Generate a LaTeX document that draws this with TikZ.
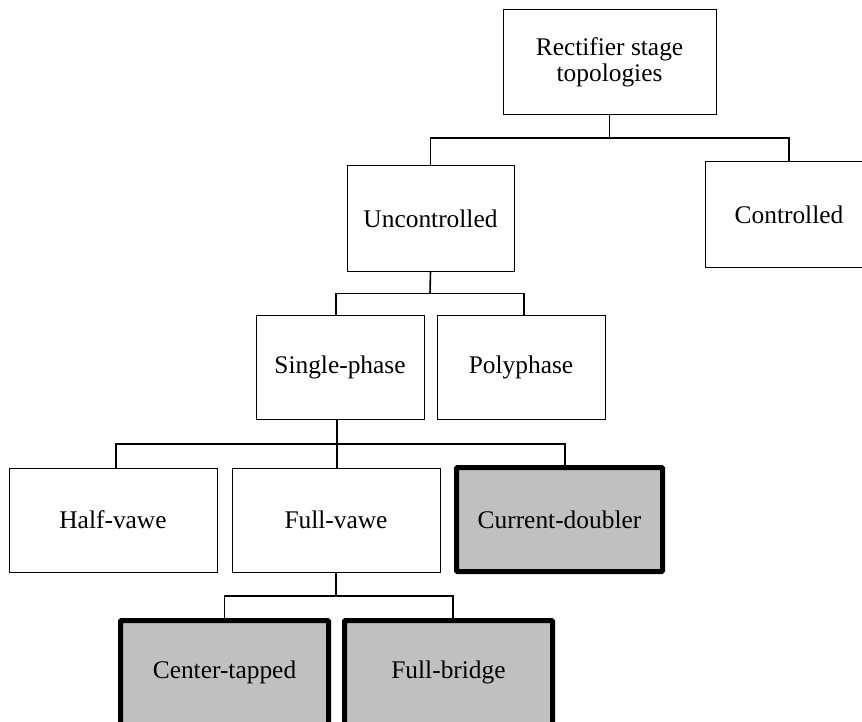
\documentclass[tikz,border=0pt]{standalone}
\usepackage{fontspec}
\setmainfont{Liberation Serif}
\definecolor{boxgray}{RGB}{192,192,192}
\tikzset{
  box/.style={draw=black, line width=1pt, fill=white, inner sep=0pt,
    minimum width=168pt, minimum height=104pt, align=center,
    font=\fontsize{25.4}{26.5}\selectfont},
  keybox/.style={box, fill=boxgray, line width=5pt, rounded corners=1pt},
  conn/.style={draw=black, line width=1.6pt}
}
\begin{document}
\begin{tikzpicture}[x=1pt, y=-1pt]
  \useasboundingbox (0,0) rectangle (862,722);
  \fill[white] (0,0) rectangle (862,722);
  \clip (0,0) rectangle (862,722);

  % tree nodes
  \node[box, minimum width=213pt, minimum height=105pt] (rect) at (609.5,62.5) {Rectifier stage\\topologies};
  \node[box, minimum width=167pt, minimum height=105pt] (unc) at (430.5,218.5) {Uncontrolled};
  \node[box, minimum height=105pt] (ctrl) at (789,214.5) {Controlled};
  \node[box] (single) at (340,367) {Single-phase};
  \node[box] (poly) at (521,367) {Polyphase};
  \node[box, minimum width=208pt] (half) at (113,520) {Half-vawe};
  \node[box, minimum width=208pt] (full) at (336,520) {Full-vawe};
  \node[keybox, minimum width=206pt] (curr) at (559.5,519.5) {Current-doubler};
  \node[keybox, minimum width=208pt] (ctap) at (224.5,672.5) {Center-tapped};
  \node[keybox, minimum width=208pt] (fbr) at (448.5,672.5) {Full-bridge};

  % junction points of the branches
  \coordinate (j1) at (609.5,138);
  \coordinate (j2) at (430,293.5);
  \coordinate (j3) at (337,444);
  \coordinate (j4) at (336,596);

  % connectors
  \draw[conn] (rect.south) -- (j1);
  \draw[conn] (j1) -| (unc.north);
  \draw[conn] (j1) -| (ctrl.north);

  \draw[conn] (unc.south) -- (j2);
  \draw[conn] (j2) -| ([xshift=-4pt]single.north);
  \draw[conn] (j2) -| ([xshift=3pt]poly.north);

  \draw[conn] ([xshift=-3pt]single.south) -- (j3);
  \draw[conn] (j3) -| ([xshift=3pt]half.north);
  \draw[conn] (j3) -| ([xshift=1pt]full.north);
  \draw[conn] (j3) -| ([xshift=5.5pt]curr.north);

  \draw[conn] (full.south) -- (j4);
  \draw[conn] (j4) -| (ctap.north);
  \draw[conn] (j4) -| ([xshift=4.5pt]fbr.north);
\end{tikzpicture}
\end{document}
